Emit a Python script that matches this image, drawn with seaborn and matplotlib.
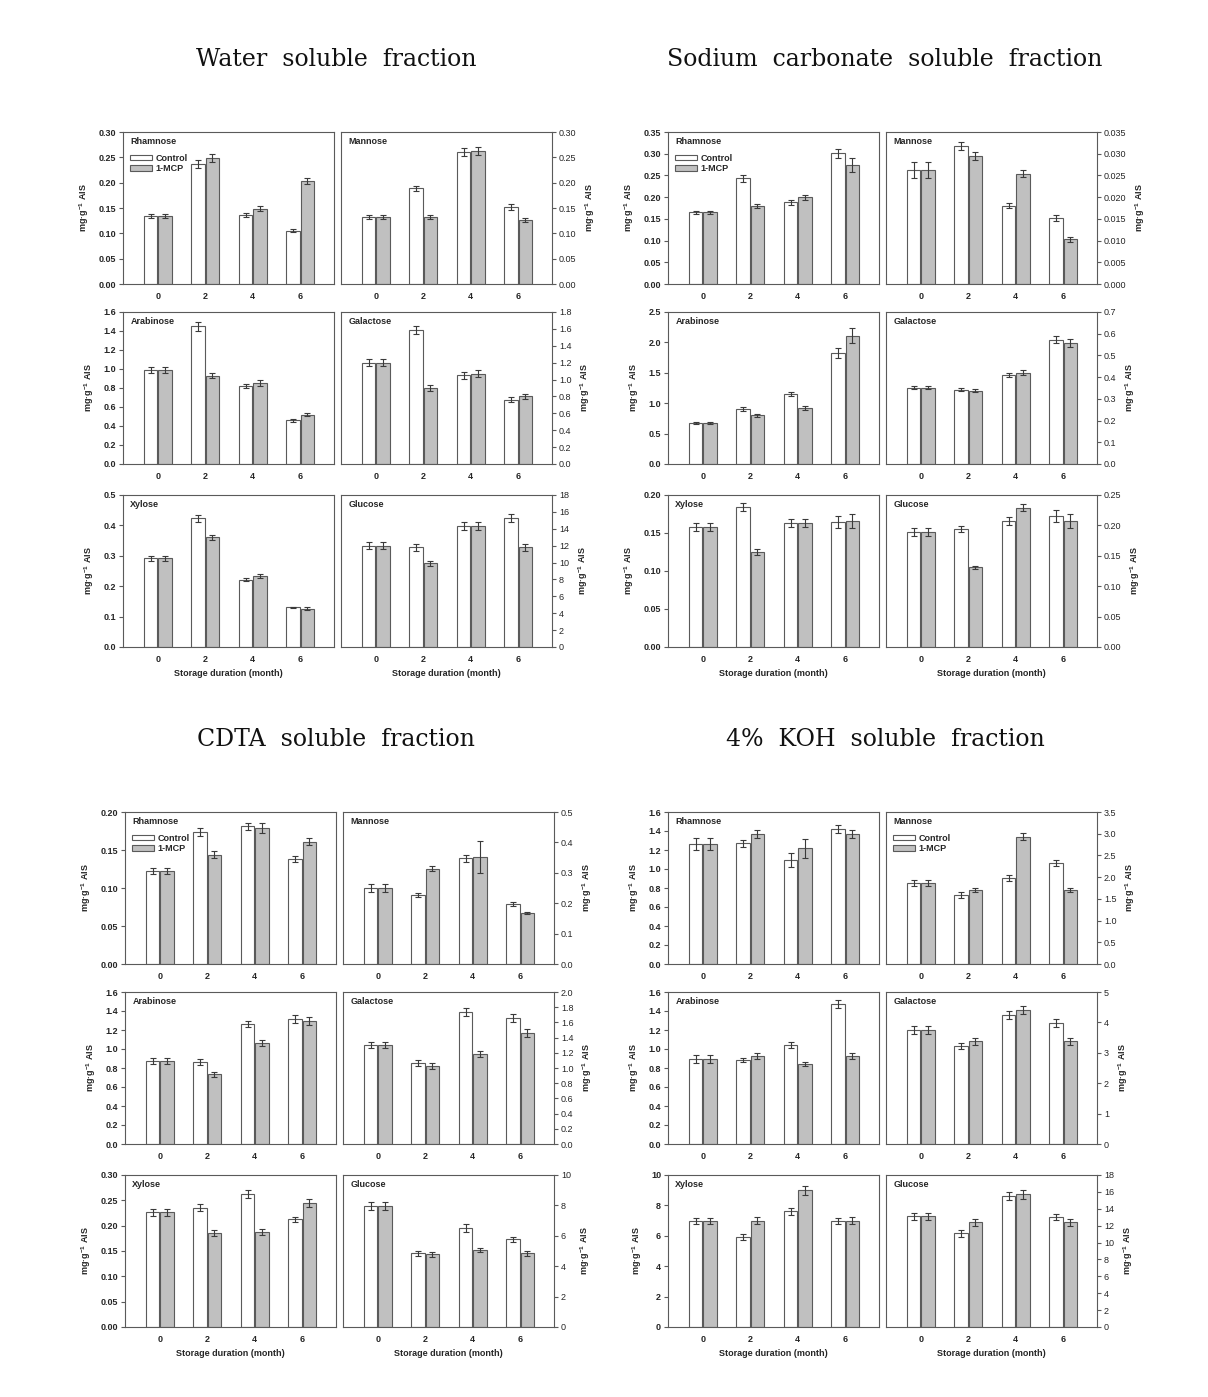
import numpy as np
import pandas as pd
import matplotlib
matplotlib.use("Agg")
import matplotlib.pyplot as plt
from matplotlib.patches import Patch
import seaborn as sns

# ---- data (mg g-1 AIS), rows follow SUGARS ----
MONTHS = ["0", "2", "4", "6"]
SUGARS = ["Rhamnose", "Mannose", "Arabinose", "Galactose", "Xylose", "Glucose"]
TREATMENTS = ["Control", "1-MCP"]

TITLES = ["Water  soluble  fraction", "Sodium  carbonate  soluble  fraction",
          "CDTA  soluble  fraction", "4%  KOH  soluble  fraction"]

water_ctrl = [[0.135, 0.236, 0.137, 0.105], [0.132, 0.189, 0.260, 0.152],
              [0.99, 1.45, 0.82, 0.46], [1.20, 1.59, 1.05, 0.76],
              [0.292, 0.423, 0.222, 0.130], [12.0, 11.8, 14.3, 15.3]]
water_mcp = [[0.135, 0.248, 0.149, 0.204], [0.132, 0.132, 0.262, 0.127],
             [0.99, 0.93, 0.855, 0.52], [1.20, 0.90, 1.07, 0.80],
             [0.292, 0.361, 0.233, 0.126], [12.0, 9.9, 14.3, 11.8]]
water_ctrl_err = [[0.004, 0.008, 0.004, 0.003], [0.004, 0.005, 0.008, 0.005],
                  [0.03, 0.045, 0.025, 0.015], [0.04, 0.05, 0.04, 0.03],
                  [0.008, 0.011, 0.006, 0.002], [0.4, 0.4, 0.5, 0.5]]
water_mcp_err = [[0.004, 0.008, 0.005, 0.006], [0.004, 0.004, 0.008, 0.004],
                 [0.03, 0.03, 0.03, 0.015], [0.04, 0.03, 0.04, 0.03],
                 [0.008, 0.009, 0.007, 0.004], [0.4, 0.3, 0.5, 0.4]]
water_ymax = [0.30, 0.30, 1.6, 1.8, 0.5, 18]
water_ystep = [0.05, 0.05, 0.2, 0.2, 0.1, 2]

sodium_ctrl = [[0.165, 0.243, 0.188, 0.301], [0.0263, 0.0318, 0.0180, 0.0152],
               [0.675, 0.905, 1.155, 1.83], [0.352, 0.342, 0.411, 0.573],
               [0.158, 0.184, 0.163, 0.164], [0.189, 0.194, 0.207, 0.215]]
sodium_mcp = [[0.165, 0.179, 0.200, 0.274], [0.0263, 0.0295, 0.0254, 0.0103],
              [0.675, 0.80, 0.92, 2.11], [0.352, 0.337, 0.421, 0.556],
              [0.158, 0.125, 0.163, 0.166], [0.189, 0.131, 0.229, 0.207]]
sodium_ctrl_err = [[0.004, 0.007, 0.005, 0.011], [0.0018, 0.0009, 0.0006, 0.0006],
                   [0.015, 0.03, 0.03, 0.08], [0.008, 0.008, 0.009, 0.015],
                   [0.005, 0.005, 0.005, 0.008], [0.006, 0.005, 0.007, 0.01]]
sodium_mcp_err = [[0.004, 0.005, 0.006, 0.017], [0.0018, 0.0009, 0.0008, 0.0006],
                  [0.015, 0.025, 0.03, 0.12], [0.008, 0.007, 0.01, 0.018],
                  [0.005, 0.004, 0.005, 0.009], [0.006, 0.003, 0.006, 0.011]]
sodium_ymax = [0.35, 0.035, 2.5, 0.7, 0.20, 0.25]
sodium_ystep = [0.05, 0.005, 0.5, 0.1, 0.05, 0.05]

cdta_ctrl = [[0.122, 0.174, 0.181, 0.138], [0.250, 0.227, 0.348, 0.197],
             [0.875, 0.865, 1.265, 1.315], [1.30, 1.06, 1.74, 1.66],
             [0.226, 0.235, 0.262, 0.213], [7.95, 4.85, 6.5, 5.77]]
cdta_mcp = [[0.122, 0.144, 0.179, 0.161], [0.250, 0.313, 0.352, 0.167],
            [0.875, 0.735, 1.06, 1.295], [1.30, 1.03, 1.18, 1.46],
            [0.226, 0.185, 0.187, 0.244], [7.95, 4.78, 5.08, 4.85]]
cdta_ctrl_err = [[0.004, 0.005, 0.005, 0.004], [0.013, 0.008, 0.011, 0.006],
                 [0.03, 0.03, 0.035, 0.04], [0.04, 0.04, 0.05, 0.05],
                 [0.006, 0.007, 0.008, 0.005], [0.25, 0.15, 0.25, 0.15]]
cdta_mcp_err = [[0.004, 0.005, 0.006, 0.005], [0.013, 0.008, 0.052, 0.004],
                [0.03, 0.025, 0.03, 0.04], [0.04, 0.04, 0.04, 0.05],
                [0.006, 0.006, 0.006, 0.008], [0.25, 0.15, 0.15, 0.15]]
cdta_ymax = [0.20, 0.5, 1.6, 2.0, 0.30, 10]
cdta_ystep = [0.05, 0.1, 0.2, 0.2, 0.05, 2]

koh_ctrl = [[1.265, 1.27, 1.095, 1.42], [1.87, 1.59, 1.98, 2.33],
            [0.895, 0.885, 1.04, 1.475], [3.76, 3.23, 4.25, 3.98],
            [7.0, 5.92, 7.6, 6.95], [13.1, 11.1, 15.5, 13.0]]
koh_mcp = [[1.265, 1.37, 1.22, 1.37], [1.87, 1.70, 2.93, 1.70],
           [0.895, 0.925, 0.84, 0.925], [3.76, 3.38, 4.41, 3.38],
           [7.0, 7.0, 9.0, 7.0], [13.1, 12.4, 15.7, 12.4]]
koh_ctrl_err = [[0.06, 0.035, 0.07, 0.04], [0.07, 0.06, 0.07, 0.07],
                [0.04, 0.025, 0.03, 0.04], [0.13, 0.1, 0.13, 0.12],
                [0.2, 0.2, 0.25, 0.2], [0.4, 0.4, 0.5, 0.35]]
koh_mcp_err = [[0.06, 0.04, 0.1, 0.04], [0.07, 0.05, 0.08, 0.05],
               [0.04, 0.03, 0.02, 0.03], [0.13, 0.12, 0.13, 0.12],
               [0.2, 0.25, 0.3, 0.25], [0.4, 0.4, 0.5, 0.4]]
koh_ymax = [1.6, 3.5, 1.6, 5, 10, 18]
koh_ystep = [0.2, 0.5, 0.2, 1, 2, 2]

# ---- style ----
W, H = 1208, 1397
EDGE = "#5a5a5a"
COLORS = {"Control": "white", "1-MCP": "#c0c0c0"}

sns.set_theme(style="white")
plt.rcParams["font.family"] = ["Liberation Sans", "DejaVu Sans"]
plt.rcParams["mathtext.fontset"] = "custom"
plt.rcParams["mathtext.bf"] = "Liberation Sans:bold"
plt.rcParams["mathtext.rm"] = "Liberation Sans:bold"

YLABEL = "mg\u00b7g$^{\\mathbf{-1}}$ AIS"
FS = 6.5


def px_axes(fig, left, top, w, h):
    return fig.add_axes([left / W, 1 - (top + h) / H, w / W, h / H])


def draw_panel(ax, sugar, ctrl, mcp, ctrl_err, mcp_err, ymax, ystep,
               right, bottom_row, legend):
    df = pd.DataFrame({
        "month": MONTHS * 2,
        "treatment": ["Control"] * 4 + ["1-MCP"] * 4,
        "value": list(ctrl) + list(mcp),
    })
    sns.barplot(data=df, x="month", y="value", hue="treatment",
                order=MONTHS, hue_order=TREATMENTS, palette=COLORS,
                width=0.6, gap=0.06, edgecolor=EDGE, linewidth=0.8,
                errorbar=None, legend=False, ax=ax)

    # error bars on the bar centres seaborn produced
    for cont, err in zip(ax.containers, [ctrl_err, mcp_err]):
        xs = [b.get_x() + b.get_width() / 2 for b in cont]
        hs = [b.get_height() for b in cont]
        ax.errorbar(xs, hs, yerr=err, fmt="none", ecolor="#3a3a3a",
                    elinewidth=0.8, capsize=2.5, capthick=0.8, zorder=5)

    ax.set_xlim(-0.73, 3.71)
    ax.set_ylim(0, ymax)
    ticks = np.arange(0, ymax + ystep / 2, ystep)
    dec = max(0, int(-np.floor(np.log10(ystep) + 1e-9)))
    ax.set_yticks(ticks)
    ax.set_yticklabels([f"{t:.{dec}f}" for t in ticks])

    ax.tick_params(axis="x", length=0, pad=6, labelsize=FS)
    ax.tick_params(axis="y", length=3, width=0.8, color=EDGE, direction="out",
                   labelsize=FS, pad=2)
    for lab in ax.get_xticklabels() + ax.get_yticklabels():
        lab.set_fontweight("bold")
    for s in ax.spines.values():
        s.set_color(EDGE)
        s.set_linewidth(0.8)

    if right:
        ax.yaxis.tick_right()
        ax.yaxis.set_label_position("right")
        ax.tick_params(axis="y", left=False, right=True)
    else:
        ax.tick_params(axis="y", left=True, right=False)
    ax.set_ylabel(YLABEL, fontsize=FS, fontweight="bold", labelpad=5)

    if bottom_row:
        ax.set_xlabel("Storage duration (month)", fontsize=FS,
                      fontweight="bold", labelpad=3)
    else:
        ax.set_xlabel("")

    ax.text(0.035, 0.94, sugar, transform=ax.transAxes, fontsize=FS,
            fontweight="bold", va="center", ha="left")

    if legend:
        handles = [Patch(facecolor=COLORS[t], edgecolor=EDGE, linewidth=0.8)
                   for t in TREATMENTS]
        ax.legend(handles, TREATMENTS, loc="upper left",
                  bbox_to_anchor=(0.005, 0.9), frameon=False,
                  prop={"weight": "bold", "size": FS},
                  handlelength=2.4, handleheight=0.55, labelspacing=0.2,
                  handletextpad=0.4, borderaxespad=0.3)


fig = plt.figure(figsize=(W / 100, H / 100), dpi=100)

blocks = [
    (water_ctrl, water_mcp, water_ctrl_err, water_mcp_err, water_ymax, water_ystep, 123, 132, 0),
    (sodium_ctrl, sodium_mcp, sodium_ctrl_err, sodium_mcp_err, sodium_ymax, sodium_ystep, 668, 132, 0),
    (cdta_ctrl, cdta_mcp, cdta_ctrl_err, cdta_mcp_err, cdta_ymax, cdta_ystep, 125, 812, 0),
    (koh_ctrl, koh_mcp, koh_ctrl_err, koh_mcp_err, koh_ymax, koh_ystep, 668, 812, 1),
]
title_pos = [(336, 60), (885, 60), (336, 740), (885, 740)]

PW, PH, PGAP = 211, 152, 7
ROW_OFF = [0, 180, 363]

for b, (ctrl, mcp, cerr, merr, ymax, ystep, x0, y0, leg) in enumerate(blocks):
    for i, sugar in enumerate(SUGARS):
        row, col = divmod(i, 2)
        ax = px_axes(fig, x0 + col * (PW + PGAP), y0 + ROW_OFF[row], PW, PH)
        draw_panel(ax, sugar, ctrl[i], mcp[i], cerr[i], merr[i], ymax[i], ystep[i],
                   right=(col == 1), bottom_row=(row == 2), legend=(i == leg))
    tx, ty = title_pos[b]
    fig.text(tx / W, 1 - ty / H, TITLES[b], ha="center", va="center",
             fontsize=17, family=["DejaVu Serif"], color="#111111")

fig.savefig("out.png", dpi=100, facecolor="white")
